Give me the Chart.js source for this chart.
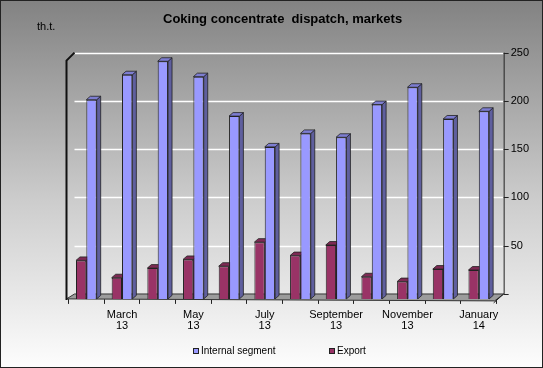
<!DOCTYPE html>
<html>
<head>
<meta charset="utf-8">
<title>Coking concentrate dispatch, markets</title>
<script src="https://cdn.jsdelivr.net/npm/chart.js@4/dist/chart.umd.min.js"></script>
<style>
  html, body { margin: 0; padding: 0; background: #fff; }
  #wrap { width: 543px; height: 368px; position: relative; }
</style>
</head>
<body>
<div id="wrap"><canvas id="dispatchChart"></canvas></div>
<script>
const months = ['February 13', 'March 13', 'April 13', 'May 13', 'June 13', 'July 13',
  'August 13', 'September 13', 'October 13', 'November 13', 'December 13', 'January 14'];
const internalSegment = [207, 233, 247, 231, 190, 158, 172, 168, 202, 220, 187, 195];
const exportValues = [40, 22, 32, 41, 34, 59, 45, 56, 23, 18, 31, 30];
const tickValues = [0, 50, 100, 150, 200, 250];

const FONT = "'Liberation Sans', Arial, sans-serif";
const DX = 4, DY = 3.5;

function shade(hex, f) {
  const n = parseInt(hex.slice(1), 16);
  const c = [(n >> 16) & 255, (n >> 8) & 255, n & 255].map(v => Math.round(v * f));
  return 'rgb(' + c.join(',') + ')';
}

// background gradient, border, unit label
const backdrop = {
  id: 'backdrop',
  beforeDraw(chart) {
    const { ctx, width, height } = chart;
    ctx.save();
    const g = ctx.createLinearGradient(0, 0, 0, height);
    g.addColorStop(0, '#828282');
    g.addColorStop(0.55, '#cdcdcd');
    g.addColorStop(1, '#fdfdfd');
    ctx.fillStyle = g;
    ctx.fillRect(0, 0, width, height);
    ctx.strokeStyle = '#222';
    ctx.lineWidth = 1;
    ctx.strokeRect(0.5, 0.5, width - 1, height - 1);
    ctx.fillStyle = '#000';
    ctx.font = '11px ' + FONT;
    ctx.textBaseline = 'middle';
    ctx.fillText('th.t.', 37, 27);
    ctx.restore();
  }
};

// back wall grid, floor, left wall, right axis, bar sides + caps
const box3d = {
  id: 'box3d',
  beforeDatasetsDraw(chart) {
    const { ctx, chartArea: a } = chart;
    const yr = chart.scales.yr;
    const back = yr.getPixelForValue(0);
    const top = yr.getPixelForValue(250);
    const bl = a.left + 6, br = a.right + 7;
    ctx.save();
    // floor
    ctx.fillStyle = '#9c9c9c';
    ctx.strokeStyle = '#333';
    ctx.lineWidth = 1;
    ctx.beginPath();
    ctx.moveTo(a.left - 2, a.bottom);
    ctx.lineTo(bl, back);
    ctx.lineTo(br, back);
    ctx.lineTo(a.right - 2, a.bottom + 2);
    ctx.closePath();
    ctx.fill();
    ctx.stroke();
    // grid lines on back wall
    ctx.strokeStyle = '#ffffff';
    ctx.lineWidth = 1.5;
    tickValues.forEach(v => {
      if (v === 0) return;
      const y = Math.round(yr.getPixelForValue(v)) + 0.5;
      ctx.beginPath();
      ctx.moveTo(bl, y);
      ctx.lineTo(br, y);
      ctx.stroke();
    });
    // left wall
    ctx.strokeStyle = '#111';
    ctx.lineWidth = 2;
    ctx.beginPath();
    ctx.moveTo(a.left - 2, a.bottom + 1);
    ctx.lineTo(a.left - 2, top + 8);
    ctx.lineTo(bl, top);
    ctx.stroke();
    // right axis with ticks
    ctx.strokeStyle = '#222';
    ctx.lineWidth = 1;
    ctx.beginPath();
    ctx.moveTo(br + 0.5, top);
    ctx.lineTo(br + 0.5, back);
    tickValues.forEach(v => {
      const y = Math.round(yr.getPixelForValue(v)) + 0.5;
      ctx.moveTo(br, y);
      ctx.lineTo(br + 5, y);
    });
    ctx.moveTo(br, back);
    ctx.lineTo(a.right - 3, a.bottom + 4);
    ctx.stroke();
    // bar sides and caps
    chart.data.datasets.forEach((ds, i) => {
      const meta = chart.getDatasetMeta(i);
      meta.data.forEach(bar => {
        const l = bar.x - bar.width / 2, r = bar.x + bar.width / 2;
        const t = bar.y, b = bar.base;
        ctx.fillStyle = shade(ds.backgroundColor, 0.62);
        ctx.strokeStyle = '#222';
        ctx.lineWidth = 0.8;
        ctx.beginPath();
        ctx.moveTo(r, t);
        ctx.lineTo(r + DX, t - DY);
        ctx.lineTo(r + DX, b - DY);
        ctx.lineTo(r, b);
        ctx.closePath();
        ctx.fill();
        ctx.stroke();
        ctx.fillStyle = shade(ds.backgroundColor, 0.82);
        ctx.beginPath();
        ctx.moveTo(l, t);
        ctx.lineTo(l + DX, t - DY);
        ctx.lineTo(r + DX, t - DY);
        ctx.lineTo(r, t);
        ctx.closePath();
        ctx.fill();
        ctx.stroke();
      });
    });
    ctx.restore();
  }
};

// legend drawn from the dataset labels/colours (internal segment first)
const legendOrder = [1, 0];
const bottomLegend = {
  id: 'bottomLegend',
  afterDraw(chart) {
    const { ctx } = chart;
    const starts = [193, 329];
    ctx.save();
    ctx.font = '10px ' + FONT;
    ctx.textBaseline = 'middle';
    legendOrder.forEach((di, i) => {
      const ds = chart.data.datasets[di];
      const x = starts[i], y = 351;
      ctx.fillStyle = ds.backgroundColor;
      ctx.fillRect(x, y - 3, 6, 6);
      ctx.strokeStyle = '#222';
      ctx.lineWidth = 1;
      ctx.strokeRect(x + 0.5, y - 2.5, 5, 5);
      ctx.fillStyle = '#000';
      ctx.fillText(ds.label, x + 8, y);
    });
    ctx.restore();
  }
};

new Chart(document.getElementById('dispatchChart'), {
  type: 'bar',
  data: {
    labels: months,
    datasets: [
      { label: 'Export', data: exportValues, backgroundColor: '#993366',
        borderColor: '#222', borderWidth: 1 },
      { label: 'Internal segment', data: internalSegment, backgroundColor: '#9999ff',
        borderColor: '#222', borderWidth: 1 }
    ]
  },
  options: {
    responsive: true,
    maintainAspectRatio: false,
    animation: false,
    devicePixelRatio: 1,
    layout: { padding: { left: 68.5, right: 0, top: 6, bottom: 31 } },
    datasets: { bar: { categoryPercentage: 0.58, barPercentage: 1.0 } },
    plugins: {
      legend: { display: false },
      tooltip: { enabled: false },
      title: {
        display: true,
        fullSize: false,
        text: 'Coking concentrate  dispatch, markets',
        color: '#000',
        font: { family: FONT, size: 13, weight: 'bold' },
        padding: { top: 6, bottom: 25 }
      }
    },
    scales: {
      x: {
        grid: { display: true, drawOnChartArea: false, drawTicks: true, tickLength: 5, color: '#222', offset: true },
        border: { display: true, color: '#222' },
        ticks: {
          autoSkip: false,
          maxRotation: 0,
          padding: 5,
          color: '#000',
          font: { family: FONT, size: 11, lineHeight: 1.05 },
          callback: (v, i) => (i % 2 === 1 ? months[i].split(' ') : '')
        }
      },
      y: {
        display: false,
        min: 0,
        max: 256
      },
      yr: {
        position: 'right',
        min: -5.1,
        max: 250,
        grid: { display: false, drawTicks: false },
        border: { display: false },
        ticks: {
          stepSize: 50,
          autoSkip: false,
          padding: 14,
          color: '#000',
          font: { family: FONT, size: 11 },
          callback: v => (v < 0 ? null : v)
        }
      }
    }
  },
  plugins: [backdrop, box3d, bottomLegend]
});
</script>
</body>
</html>
